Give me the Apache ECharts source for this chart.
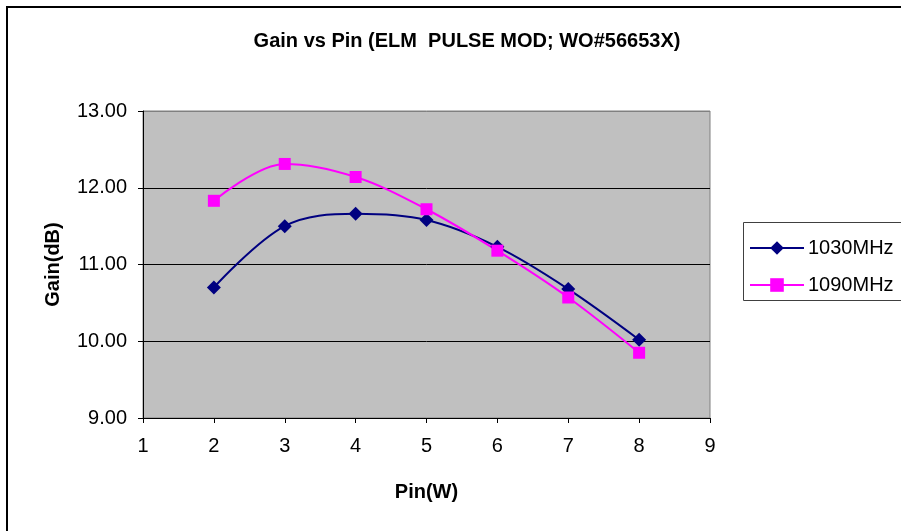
<!DOCTYPE html>
<html>
<head>
<meta charset="utf-8">
<script src="https://cdn.jsdelivr.net/npm/echarts@6/dist/echarts.min.js"></script>
<style>
html,body{margin:0;padding:0;background:#fff;}
#chart{width:901px;height:531px;}
</style>
</head>
<body>
<div id="chart"></div>
<script>
var pinW = [2, 3, 4, 5, 6, 7, 8];
var gain1030 = [10.70, 11.50, 11.66, 11.58, 11.23, 10.68, 10.02];
var gain1090 = [11.83, 12.31, 12.14, 11.72, 11.18, 10.57, 9.85];
var seriesNames = ['1030MHz', '1090MHz'];

function pairs(xs, ys){ return xs.map(function(x,i){ return [x, ys[i]]; }); }

var chart = echarts.init(document.getElementById('chart'));
var font = 'Liberation Sans, Arial, sans-serif';
chart.setOption({
  animation: false,
  backgroundColor: '#ffffff',
  title: {
    text: 'Gain vs Pin (ELM  PULSE MOD; WO#56653X)',
    left: 462, top: 26, textAlign: 'center',
    textStyle: {fontFamily: font, fontSize: 20, fontWeight: 'bold', color: '#000'}
  },
  graphic: [
    {type: 'rect', shape: {x: 7, y: 7, width: 1000, height: 1000}, style: {fill: 'none', stroke: '#000', lineWidth: 2}, z: 100},
    {type: 'rect', shape: {x: 743.5, y: 222.5, width: 200, height: 78}, style: {fill: '#fff', stroke: '#404040', lineWidth: 1}, z: 0}
  ],
  legend: {
    orient: 'vertical',
    left: 744, top: 233,
    itemWidth: 54, itemHeight: 17, itemGap: 17,
    data: seriesNames,
    textStyle: {fontFamily: font, fontSize: 20, color: '#000', padding: [0,0,0,-1]}
  },
  grid: {
    left: 143, top: 111, width: 567, height: 307,
    show: true, backgroundColor: '#c0c0c0', borderColor: '#808080', borderWidth: 1
  },
  xAxis: {
    type: 'value', min: 1, max: 9, interval: 1,
    name: 'Pin(W)', nameLocation: 'middle', nameGap: 64,
    nameTextStyle: {fontFamily: font, fontSize: 20, fontWeight: 'bold', color: '#000'},
    axisLine: {lineStyle: {color: '#000', width: 1}},
    axisTick: {show: true, length: 5, lineStyle: {color: '#000'}},
    axisLabel: {fontFamily: font, fontSize: 20, color: '#000', margin: 18},
    splitLine: {show: false}
  },
  yAxis: {
    type: 'value', min: 9, max: 13, interval: 1,
    name: 'Gain(dB)', nameLocation: 'middle', nameGap: 80, nameRotate: 90,
    nameTextStyle: {fontFamily: font, fontSize: 20, fontWeight: 'bold', color: '#000'},
    axisLine: {show: true, lineStyle: {color: '#000', width: 1}},
    axisTick: {show: true, length: 5, lineStyle: {color: '#000'}},
    axisLabel: {fontFamily: font, fontSize: 20, color: '#000', margin: 16,
      formatter: function(v){ return v.toFixed(2); }},
    splitLine: {show: true, lineStyle: {color: ['#000', '#000', '#000', '#000', '#808080'], width: 1}}
  },
  series: [
    {
      name: seriesNames[0], type: 'line', smooth: 0.35,
      data: pairs(pinW, gain1030),
      symbol: 'diamond', symbolSize: 14,
      lineStyle: {color: '#000080', width: 2},
      itemStyle: {color: '#000080'}
    },
    {
      name: seriesNames[1], type: 'line', smooth: 0.35,
      data: pairs(pinW, gain1090),
      symbol: 'rect', symbolSize: 12,
      lineStyle: {color: '#ff00ff', width: 2},
      itemStyle: {color: '#ff00ff'}
    }
  ]
});
</script>
</body>
</html>
